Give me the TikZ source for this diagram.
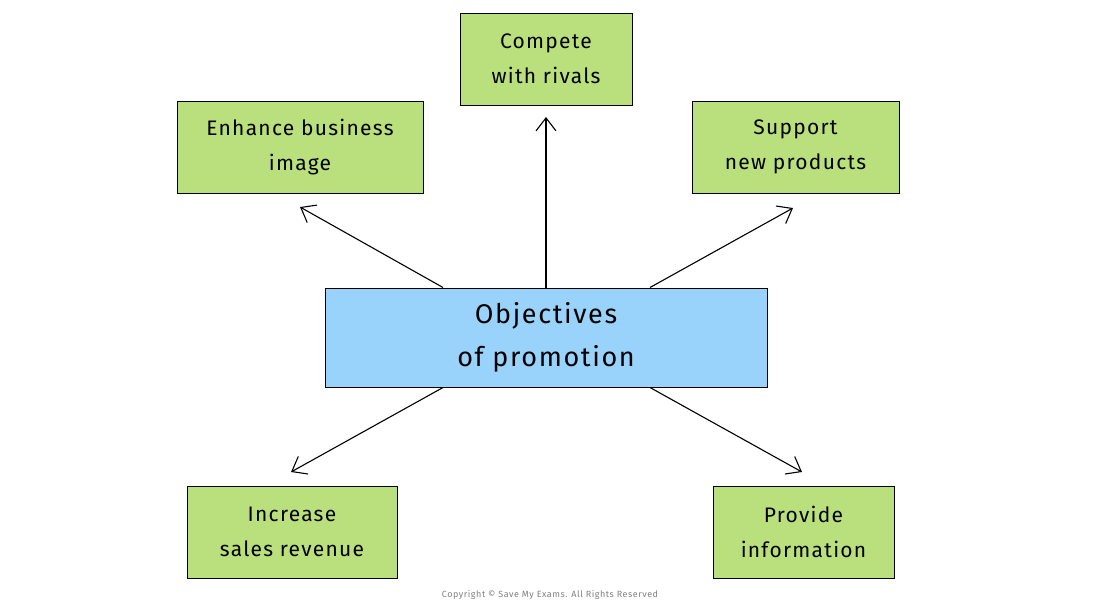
\documentclass[tikz,border=0pt]{standalone}
\usepackage{fontspec}
\setmainfont[LetterSpace=6]{Fira Sans}
\usetikzlibrary{arrows.meta}
\definecolor{gbox}{HTML}{B9E07D}
\definecolor{bbox}{HTML}{99D3FB}
\begin{document}
\begin{tikzpicture}[x=1pt,y=-1pt,
  gnode/.style={draw=black,fill=gbox,line width=1pt,minimum height=92pt,align=center,font=\fontsize{21}{35}\selectfont,inner sep=0pt},
  bnode/.style={draw=black,fill=bbox,line width=1pt,minimum width=442pt,minimum height=99pt,align=center,font=\fontsize{27}{43}\selectfont,inner sep=0pt},
  arr/.style={-{Straight Barb[length=13pt,width=20pt,line width=1.1pt]},line width=1.1pt}]
\useasboundingbox (0,0) rectangle (1100,606);
\node[gnode,minimum width=172pt] (cmp) at (546,59) {Compete\\with rivals};
\node[gnode,minimum width=246pt] (enh) at (300,147) {Enhance business\\image};
\node[gnode,minimum width=207pt] (sup) at (795.5,147) {Support\\new products};
\node[bnode] (obj) at (546,337.5) {Objectives\\of promotion};
\node[gnode,minimum width=210pt] (inc) at (292,532) {Increase\\sales revenue};
\node[gnode,minimum width=181pt] (pro) at (803.5,532) {Provide\\information};
\coordinate (e1) at (300,207);
\coordinate (e2) at (546,117);
\coordinate (e3) at (793,208);
\coordinate (e4) at (291,472);
\coordinate (e5) at (802,472);
\draw[arr] ([xshift=-103pt]obj.north) -- (e1);
\draw[arr] (obj.north) -- (e2);
\draw[arr] ([xshift=104pt]obj.north) -- (e3);
\draw[arr] ([xshift=-103pt]obj.south) -- (e4);
\draw[arr] ([xshift=104pt]obj.south) -- (e5);
\node[text=gray,font=\fontsize{9}{10}\selectfont] (cp) at (550,595) {Copyright © Save My Exams. All Rights Reserved};
\end{tikzpicture}
\end{document}
